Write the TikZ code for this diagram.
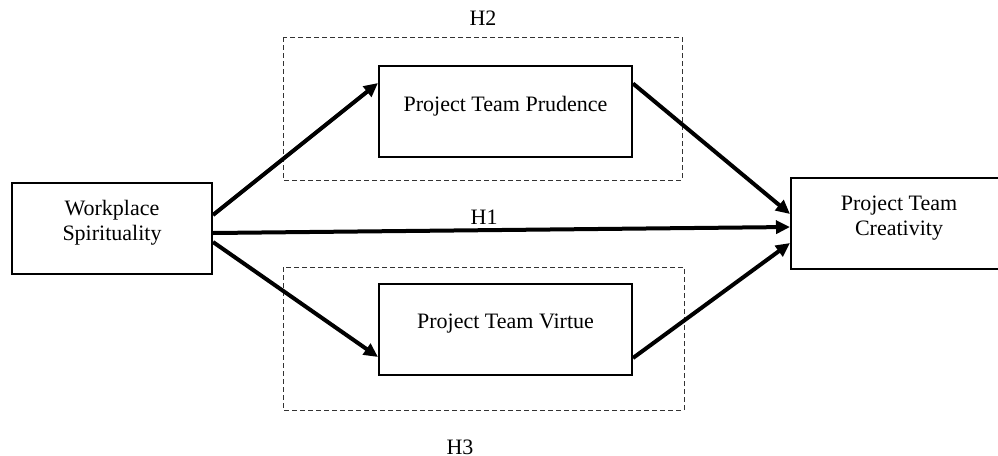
\documentclass[tikz,border=0pt]{standalone}
\usepackage{fontspec}
\setmainfont{Liberation Serif}
\usetikzlibrary{positioning, arrows.meta}

\tikzset{
  varbox/.style={draw, line width=1pt, inner sep=0pt, minimum height=45.5pt, align=center},
  onetext/.style={text depth=7.3pt},
  twotext/.style={text depth=7.5pt},
  hypbox/.style={draw=black!80, line width=0.5pt, dash pattern=on 2.5pt off 1.5pt},
  effect/.style={line width=2pt, -{Triangle[length=7pt, width=6.5pt]}}
}

\begin{document}
\begin{tikzpicture}[x=0.5pt, y=-0.5pt, font=\fontsize{11}{12.5}\selectfont]
  \useasboundingbox (0,0) rectangle (998,456);
  \node [varbox, twotext, minimum width=100pt] (ws) at (112,228) {Workplace\\Spirituality};
  \node [varbox, onetext, minimum width=126.5pt, right=82.5pt of ws, yshift=58.25pt] (prud) {Project Team Prudence};
  \node [varbox, onetext, minimum width=126.5pt, right=82.5pt of ws, yshift=-50.5pt] (virt) {Project Team Virtue};
  \node [varbox, twotext, minimum width=108pt, right=288.5pt of ws, yshift=2.25pt] (crea) {Project Team\\Creativity};
  \draw [hypbox] (283,37) rectangle (682,180);
  \draw [hypbox] (283,267) rectangle (684,410);
  \node (h2) at (483,18) {H2};
  \node (h3) at (460,447) {H3};
  \draw [effect] ([yshift=6.5pt]ws.east) -- ([yshift=14.25pt]prud.west);
  \draw [effect] ([yshift=-2.5pt]ws.east) -- node [pos=0.47, above, inner sep=2pt] (h1) {H1} ([yshift=-1.75pt]crea.west);
  \draw [effect] ([yshift=-7pt]ws.east) -- ([yshift=-14pt]virt.west);
  \draw [effect] ([yshift=14pt]prud.east) -- ([yshift=4.75pt]crea.west);
  \draw [effect] ([yshift=-14.5pt]virt.east) -- ([yshift=-9.75pt]crea.west);
\end{tikzpicture}
\end{document}
